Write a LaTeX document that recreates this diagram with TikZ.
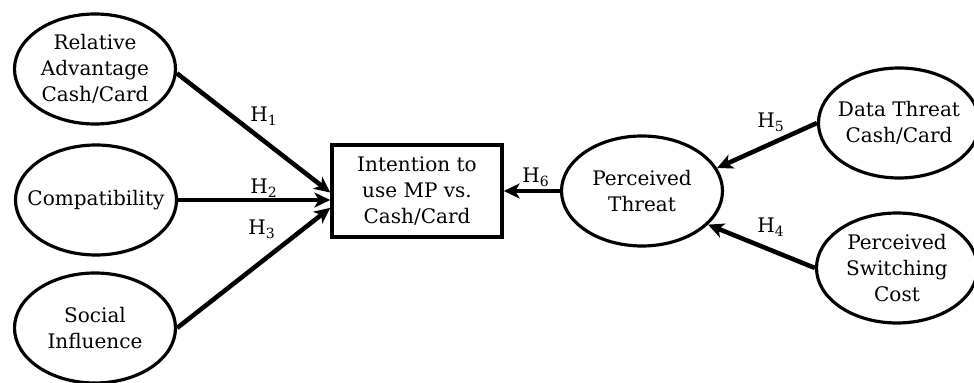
\documentclass[tikz,border=0pt]{standalone}
\usepackage{fontspec}
\setmainfont{DejaVu Serif}
\usetikzlibrary{arrows.meta,shapes.geometric}
\definecolor{ink}{HTML}{000000}

\begin{document}
\begin{tikzpicture}[font=\fontsize{11.4}{14.8}\selectfont,
  construct/.style={ellipse, draw=ink, line width=1.8pt, minimum width=3.22cm,
    minimum height=2.2cm, inner xsep=-0.35cm, inner ysep=0pt, align=center,
    text=ink},
  target/.style={rectangle, draw=ink, line width=2pt, minimum width=3.4cm,
    minimum height=1.84cm, inner sep=0pt, align=center, text=ink},
  hyparrow/.style={-{Stealth[length=9pt,width=8.5pt,inset=2.5pt]},
    line width=2.6pt, draw=ink},
  hyplabel/.style={text=ink, inner sep=0pt, anchor=base west}]

\useasboundingbox (0,0) rectangle (19.48cm,-7.66cm);

% antecedents on the left
\node[construct] (reladv) at (1.90cm,-1.38cm) {Relative\\Advantage\\Cash/Card};
\node[construct] (compat) at (1.92cm,-4.00cm) {Compatibility};
\node[construct] (social) at (1.90cm,-6.56cm) {Social\\Influence};

% outcome
\node[target] (intent) at (8.34cm,-3.82cm) {Intention to\\use MP vs.\\Cash/Card};

% threat side
\node[construct] (threat) at (12.84cm,-3.82cm) {Perceived\\Threat};
\node[construct] (datathr) at (17.98cm,-2.46cm) {Data Threat\\Cash/Card};
\node[construct] (switch) at (17.94cm,-5.36cm) {Perceived\\Switching\\Cost};

% hypothesised paths
\draw[hyparrow] (reladv.-3) -- (intent.181);
\draw[hyparrow] (compat.east) -- (compat.east -| intent.west);
\draw[hyparrow] (social.east) -- (intent.191);
\draw[hyparrow] (threat.west) -- (intent.east);
\draw[hyparrow] (datathr.west) -- (threat.17);
\draw[hyparrow] (switch.west) -- (threat.-27);

\node[hyplabel] (h1) at (5.00cm,-2.44cm) {H\textsubscript{1}};
\node[hyplabel] (h2) at (5.00cm,-3.88cm) {H\textsubscript{2}};
\node[hyplabel] (h3) at (4.96cm,-4.70cm) {H\textsubscript{3}};
\node[hyplabel] (h6) at (10.44cm,-3.66cm) {H\textsubscript{6}};
\node[hyplabel] (h5) at (15.14cm,-2.56cm) {H\textsubscript{5}};
\node[hyplabel] (h4) at (15.14cm,-4.66cm) {H\textsubscript{4}};

\end{tikzpicture}
\end{document}
